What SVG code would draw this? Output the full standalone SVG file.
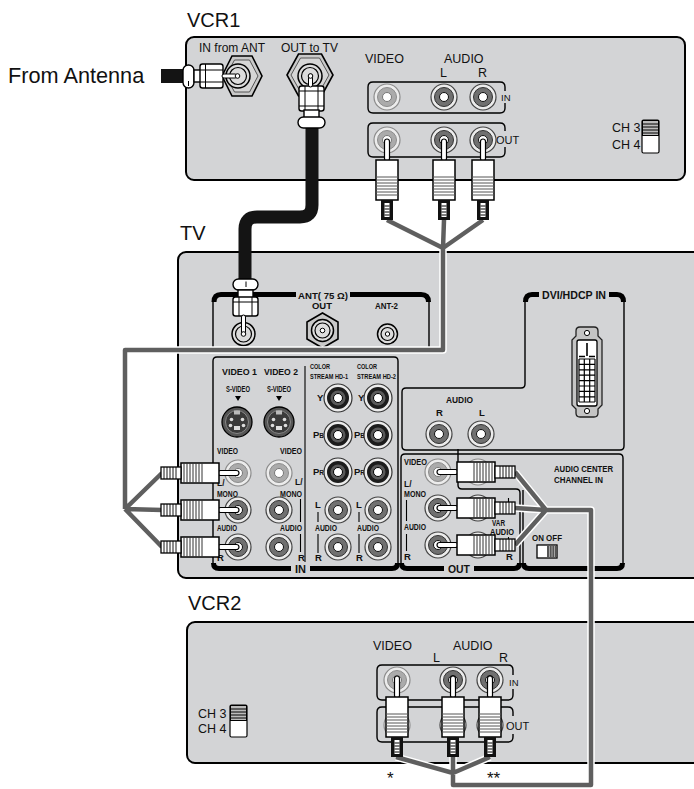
<svg xmlns="http://www.w3.org/2000/svg" xmlns:xlink="http://www.w3.org/1999/xlink" width="694" height="789" viewBox="0 0 694 789">
<style>
.t{font-family:"Liberation Sans",Arial,sans-serif;fill:#111}
.big{font-size:20px}
.m{font-size:12.5px}
.s{font-size:12px}
.b{font-weight:bold;font-size:9.5px}
.box{fill:#d3d4d6;stroke:#000;stroke-width:2}
.fr{fill:none;stroke:#000;stroke-width:1.4}
.bar{fill:none;stroke:#000;stroke-width:5}
.thin{fill:none;stroke:#000;stroke-width:1.1}
.wh{fill:#fff;stroke:#000;stroke-width:1.4}
.halo{fill:none;stroke:#fff;stroke-width:7.5;stroke-linejoin:round}
.cab{fill:none;stroke:#5f5f5f;stroke-width:4.5;stroke-linejoin:round}
.coax{fill:none;stroke:#141414;stroke-width:13;stroke-linejoin:round}
</style>
<defs>
<g id="jLight"><circle r="13" fill="#ececec" stroke="#8c8c8c" stroke-width="1.2"/><circle r="9.5" fill="#ababab" stroke="#8c8c8c"/><circle r="4.5" fill="#fff" stroke="#777"/></g>
<g id="jMed"><circle r="13" fill="#ececec" stroke="#444" stroke-width="1.2"/><circle r="9.5" fill="#707070" stroke="#333"/><circle r="4.5" fill="#fff" stroke="#111"/></g>
<g id="jDark"><circle r="14" fill="#ececec" stroke="#333" stroke-width="1.2"/><circle r="11" fill="#1c1c1c"/><circle r="7.5" fill="#5a5a5a"/><circle r="4.5" fill="#fff" stroke="#000"/></g>
<g id="sv"><circle r="15" fill="#555" stroke="#000" stroke-width="1.3"/><circle r="11.5" fill="#3a3a3a" stroke="#888"/><path d="M-3 -11.5h6v4h-6z" fill="#bbb"/><circle cx="-5.5" cy="-2.5" r="1.8" fill="#ddd"/><circle cx="5.5" cy="-2.5" r="1.8" fill="#ddd"/><circle cx="-6.5" cy="3.5" r="1.8" fill="#ddd"/><circle cx="6.5" cy="3.5" r="1.8" fill="#ddd"/><rect x="-3" y="4" width="6" height="4" fill="#ddd"/></g>
<g id="plugR">
<rect x="-1" y="-2.5" width="21" height="5" rx="2.5" fill="#fff" stroke="#000" stroke-width="1.2"/>
<rect x="19" y="-10" width="38" height="20" fill="#fff" stroke="#000" stroke-width="1.5"/>
<path d="M36 -10V10M39 -10V10M42 -10V10M45 -10V10M48 -10V10M51 -10V10M54 -10V10" stroke="#333" stroke-width="1"/>
<rect x="57" y="-6" width="20" height="12" fill="#fff" stroke="#000" stroke-width="1.3"/>
<path d="M62 -6V6M65 -6V6M68 -6V6M71 -6V6M74 -6V6" stroke="#000" stroke-width="0.9"/>
</g>
<g id="plugD">
<rect x="-2.5" y="-1" width="5" height="22" rx="2.5" fill="#fff" stroke="#000" stroke-width="1.2"/>
<rect x="-11" y="20" width="22" height="40" fill="#fff" stroke="#000" stroke-width="1.5"/>
<path d="M-11 37H11M-11 40H11M-11 43H11M-11 46H11M-11 49H11M-11 52H11M-11 55H11" stroke="#555" stroke-width="1"/>
<rect x="-6" y="60" width="12" height="20" fill="#111"/>
<rect x="-2.5" y="63" width="5" height="14" fill="#fff"/>
<path d="M-2.5 66H2.5M-2.5 69H2.5M-2.5 72H2.5M-2.5 75H2.5" stroke="#000" stroke-width="1"/>
</g>
</defs>

<text class="t" x="8" y="82.5" font-size="21.7">From Antenna</text>

<g id="vcr1">
<text class="t big" x="187" y="27">VCR1</text>
<rect class="box" x="186" y="37" width="499" height="143" rx="8"/>
<text class="t s" x="199" y="52">IN from ANT</text>
<text class="t s" x="281" y="52">OUT to TV</text>
<polygon points="222,76 232,56 252,56 262,76 252,96 232,96" fill="#c9c9c9" stroke="#000" stroke-width="1.6"/>
<polygon points="226,76 234.5,60 249.5,60 258,76 249.5,92 234.5,92" fill="#d6d6d6" stroke="#555" stroke-width="1"/>
<circle cx="238" cy="76" r="12" fill="#dcdcdc" stroke="#000" stroke-width="1.5"/>
<circle cx="238" cy="76" r="8.5" fill="none" stroke="#000" stroke-width="1.2"/>
<polygon points="287,75 298.5,54 321.5,54 333,75 321.5,96 298.5,96" fill="#c9c9c9" stroke="#000" stroke-width="1.6"/>
<polygon points="291,75 300.5,58 319.5,58 329,75 319.5,92 300.5,92" fill="#d6d6d6" stroke="#555" stroke-width="1"/>
<circle cx="310" cy="76" r="12" fill="#dcdcdc" stroke="#000" stroke-width="1.5"/>
<circle cx="310" cy="76" r="8.5" fill="none" stroke="#000" stroke-width="1.2"/>
<text class="t m" x="365" y="63">VIDEO</text>
<text class="t m" x="444" y="63">AUDIO</text>
<text class="t m" x="440" y="77">L</text>
<text class="t m" x="478" y="77">R</text>
<path class="fr" d="M505 91V87Q505 82 500 82H373Q368 82 368 87V108Q368 113 373 113H500Q505 113 505 108V103"/>
<text class="t" x="501" y="101" font-size="9.5">IN</text>
<path class="fr" d="M505 131V128Q505 123 500 123H373Q368 123 368 128V152Q368 157 373 157H500Q505 157 505 152V147"/>
<text class="t" x="496" y="143.5" font-size="11">OUT</text>
<use xlink:href="#jLight" x="387" y="97"/>
<use xlink:href="#jMed" x="444" y="97"/>
<use xlink:href="#jMed" x="483" y="97"/>
<use xlink:href="#jLight" x="387" y="140"/>
<use xlink:href="#jMed" x="444" y="140"/>
<use xlink:href="#jMed" x="483" y="140"/>
<text class="t m" x="612" y="132">CH 3</text>
<text class="t m" x="612" y="149">CH 4</text>
<rect x="642" y="120" width="17" height="33" rx="1.5" fill="#fff" stroke="#000" stroke-width="1.2"/>
<rect x="642.5" y="120.5" width="16" height="15" fill="#bbb" stroke="#000" stroke-width="1"/>
<path d="M643 124H658M643 127H658M643 130H658M643 133H658" stroke="#000" stroke-width="1"/>
</g>

<g id="tv">
<text class="t big" x="180" y="240">TV</text>
<rect class="box" x="178" y="252" width="540" height="326" rx="8"/>
<path class="fr" d="M213 350V300M429 300V350"/>
<path class="bar" d="M214 302Q214 294.5 221 294.5H296M350 294.5H421Q428.5 294.5 428.5 302"/>
<text class="t" x="298" y="298.5" font-weight="bold" font-size="9" textLength="50" lengthAdjust="spacingAndGlyphs">ANT( 75 Ω)</text>
<text class="t b" x="312" y="309" textLength="20" lengthAdjust="spacingAndGlyphs">OUT</text>
<text class="t b" x="375" y="309" textLength="23" lengthAdjust="spacingAndGlyphs">ANT-2</text>
<circle cx="243.5" cy="334" r="11.5" fill="#dcdcdc" stroke="#000" stroke-width="1.5"/>
<circle cx="243.5" cy="334" r="8" fill="none" stroke="#000" stroke-width="1.2"/>
<polygon points="322.5,313 338,322 338,339 322.5,348 307,339 307,322" fill="#c9c9c9" stroke="#000" stroke-width="1.6"/>
<circle cx="322.5" cy="330.5" r="11" fill="#dcdcdc" stroke="#000" stroke-width="1.5"/>
<circle cx="322.5" cy="330.5" r="7.5" fill="none" stroke="#000" stroke-width="1.2"/>
<circle cx="322.5" cy="330.5" r="2.3" fill="#fff" stroke="#000"/>
<circle cx="387.5" cy="334" r="10" fill="#dcdcdc" stroke="#000" stroke-width="1.5"/>
<circle cx="387.5" cy="334" r="6.5" fill="none" stroke="#000" stroke-width="1.2"/>
<circle cx="387.5" cy="334" r="2.2" fill="#fff" stroke="#000"/>
<path class="fr" d="M525 301V384Q525 388 521 388H406Q402 388 402 392V446Q402 450 406 450H620Q624 450 624 446V301"/>
<path class="bar" d="M525.5 302Q525.5 294.5 532 294.5H539M609 294.5H617Q623.5 294.5 623.5 302"/>
<text class="t" x="542" y="299" font-weight="bold" font-size="10.5" textLength="64" lengthAdjust="spacingAndGlyphs">DVI/HDCP IN</text>
<path d="M580 327H594Q598 327 598 331V336L602 340V405L598 409V413Q598 417 594 417H580Q576 417 576 413V409L572 405V340L576 336V331Q576 327 580 327Z" fill="#c4c4c4" stroke="#222" stroke-width="1.3"/>
<circle cx="587" cy="333" r="2.6" fill="#fff" stroke="#000"/>
<circle cx="587" cy="411" r="2.6" fill="#fff" stroke="#000"/>
<rect x="577" y="340" width="20" height="66" rx="2" fill="#fff" stroke="#000" stroke-width="1.3"/>
<path d="M587 343V356M579 356.5H585M589 356.5H595" stroke="#000" stroke-width="1.6"/>
<path d="M579 359V402M584.3 359V402M589.7 359V402M595 359V402M579 359H595M579 364.4H595M579 369.8H595M579 375.2H595M579 380.6H595M579 386H595M579 391.4H595M579 396.8H595M579 402H595" stroke="#000" stroke-width="1.2" fill="none"/>
<text class="t b" x="446" y="403" textLength="27" lengthAdjust="spacingAndGlyphs">AUDIO</text>
<text class="t b" x="436" y="416">R</text>
<text class="t b" x="479" y="416">L</text>
<use xlink:href="#jMed" x="439" y="434"/>
<use xlink:href="#jMed" x="481" y="434"/>
<path class="fr" d="M213 564V361Q213 357 217 357H394Q398 357 398 361V564"/>
<path class="bar" d="M213.5 563Q213.5 568.5 219 568.5H291M310 568.5H392Q397.5 568.5 397.5 563"/>
<text class="t" x="295" y="573" font-weight="bold" font-size="11">IN</text>
<path class="thin" d="M305 366V562"/>
<text class="t b" x="222" y="375" textLength="35" lengthAdjust="spacingAndGlyphs">VIDEO 1</text>
<text class="t b" x="264" y="375" textLength="34" lengthAdjust="spacingAndGlyphs">VIDEO 2</text>
<text class="t b" x="226" y="392" textLength="24" lengthAdjust="spacingAndGlyphs">S-VIDEO</text>
<text class="t b" x="267" y="392" textLength="24" lengthAdjust="spacingAndGlyphs">S-VIDEO</text>
<path d="M235 396h6l-3 5zM276 396h6l-3 5z" fill="#000"/>
<use xlink:href="#sv" x="237" y="422"/>
<use xlink:href="#sv" x="279" y="422"/>
<text class="t b" x="217" y="454" textLength="21" lengthAdjust="spacingAndGlyphs">VIDEO</text>
<text class="t b" x="280" y="454" textLength="22" lengthAdjust="spacingAndGlyphs">VIDEO</text>
<text class="t" x="217" y="486" font-weight="bold" font-size="8.5">L/</text>
<text class="t" x="295" y="485" font-weight="bold" font-size="8.5">L/</text>
<text class="t b" x="217" y="497" textLength="21" lengthAdjust="spacingAndGlyphs">MONO</text>
<text class="t b" x="280" y="497" textLength="22" lengthAdjust="spacingAndGlyphs">MONO</text>
<text class="t b" x="217" y="531" textLength="20" lengthAdjust="spacingAndGlyphs">AUDIO</text>
<text class="t b" x="280" y="531" textLength="22" lengthAdjust="spacingAndGlyphs">AUDIO</text>
<text class="t b" x="217" y="561">R</text>
<text class="t b" x="298" y="561">R</text>
<path class="thin" d="M300.5 499V522M300.5 534V552"/>
<use xlink:href="#jLight" x="238" y="473"/>
<use xlink:href="#jLight" x="279" y="473"/>
<use xlink:href="#jMed" x="238" y="510"/>
<use xlink:href="#jMed" x="279" y="510"/>
<use xlink:href="#jMed" x="238" y="547"/>
<use xlink:href="#jMed" x="279" y="547"/>
<text class="t" x="310" y="369" font-weight="bold" font-size="8" textLength="20" lengthAdjust="spacingAndGlyphs">COLOR</text>
<text class="t" x="310" y="379" font-weight="bold" font-size="8" textLength="38" lengthAdjust="spacingAndGlyphs">STREAM HD-1</text>
<text class="t" x="357" y="369" font-weight="bold" font-size="8" textLength="20" lengthAdjust="spacingAndGlyphs">COLOR</text>
<text class="t" x="357" y="379" font-weight="bold" font-size="8" textLength="39" lengthAdjust="spacingAndGlyphs">STREAM HD-2</text>
<text class="t b" x="317" y="401">Y</text>
<text class="t b" x="358" y="401">Y</text>
<text class="t b" x="313" y="438">P<tspan font-size="6.5">B</tspan></text>
<text class="t b" x="354" y="438">P<tspan font-size="6.5">B</tspan></text>
<text class="t b" x="313" y="475">P<tspan font-size="6.5">R</tspan></text>
<text class="t b" x="354" y="475">P<tspan font-size="6.5">R</tspan></text>
<use xlink:href="#jDark" x="338" y="398"/>
<use xlink:href="#jDark" x="378" y="398"/>
<use xlink:href="#jDark" x="338" y="435"/>
<use xlink:href="#jDark" x="378" y="435"/>
<use xlink:href="#jDark" x="338" y="472"/>
<use xlink:href="#jDark" x="378" y="472"/>
<text class="t b" x="315" y="508">L</text>
<text class="t b" x="356" y="508">L</text>
<path class="thin" d="M318 512V522M318 534V553M359 512V522M359 534V553"/>
<text class="t b" x="315" y="531" textLength="22" lengthAdjust="spacingAndGlyphs">AUDIO</text>
<text class="t b" x="357" y="531" textLength="22" lengthAdjust="spacingAndGlyphs">AUDIO</text>
<text class="t b" x="315" y="561">R</text>
<text class="t b" x="356" y="561">R</text>
<use xlink:href="#jMed" x="338" y="510"/>
<use xlink:href="#jMed" x="378" y="510"/>
<use xlink:href="#jMed" x="338" y="547"/>
<use xlink:href="#jMed" x="378" y="547"/>
<path class="fr" d="M458 454H405Q401 454 401 458V564M520 564V493Q520 489 516 489H462Q458 489 458 485V449"/>
<path class="bar" d="M401.5 563Q401.5 568.5 407 568.5H444M474 568.5H514Q519.5 568.5 519.5 563"/>
<text class="t" x="448" y="573" font-weight="bold" font-size="11" textLength="22" lengthAdjust="spacingAndGlyphs">OUT</text>
<text class="t b" x="404" y="465" textLength="23" lengthAdjust="spacingAndGlyphs">VIDEO</text>
<text class="t" x="404" y="486.5" font-weight="bold" font-size="8.5">L/</text>
<text class="t b" x="404" y="497" textLength="22" lengthAdjust="spacingAndGlyphs">MONO</text>
<path class="thin" d="M406.5 500V521M406.5 534V551"/>
<text class="t b" x="404" y="530" textLength="22" lengthAdjust="spacingAndGlyphs">AUDIO</text>
<text class="t b" x="404" y="560">R</text>
<text class="t" x="492" y="525.5" font-weight="bold" font-size="8.5" textLength="13" lengthAdjust="spacingAndGlyphs">VAR</text>
<text class="t" x="490" y="535" font-weight="bold" font-size="8.5" textLength="24" lengthAdjust="spacingAndGlyphs">AUDIO</text>
<text class="t b" x="506" y="560">R</text>
<path class="thin" d="M508.5 498V513M508.5 537V548"/>
<use xlink:href="#jLight" x="438" y="472"/>
<use xlink:href="#jMed" x="438" y="508"/>
<use xlink:href="#jMed" x="438" y="545"/>
<use xlink:href="#jLight" x="478" y="472"/>
<use xlink:href="#jMed" x="478" y="508"/>
<use xlink:href="#jMed" x="478" y="545"/>
<path class="fr" d="M458 454H619Q623 454 623 458V564M523 564V490"/>
<path class="bar" d="M523.5 563Q523.5 568.5 529 568.5H617Q622.5 568.5 622.5 563"/>
<text class="t b" x="554" y="472" textLength="59" lengthAdjust="spacingAndGlyphs">AUDIO CENTER</text>
<text class="t b" x="554" y="483" textLength="49" lengthAdjust="spacingAndGlyphs">CHANNEL IN</text>
<text class="t b" x="532" y="541" textLength="30" lengthAdjust="spacingAndGlyphs">ON OFF</text>
<rect x="537" y="545" width="20" height="13" fill="#fff" stroke="#000" stroke-width="1.3"/>
<rect x="547" y="545.5" width="9.5" height="12" fill="#555"/>
<path d="M549.5 546V557M552 546V557M554.5 546V557" stroke="#bbb" stroke-width="0.8"/>
</g>

<g id="vcr2">
<text class="t big" x="188" y="610">VCR2</text>
<rect class="box" x="187" y="622" width="530" height="141" rx="8"/>
<text class="t m" x="373" y="650">VIDEO</text>
<text class="t m" x="453" y="650">AUDIO</text>
<text class="t m" x="433" y="662">L</text>
<text class="t m" x="499" y="662">R</text>
<path class="fr" d="M513 675V670Q513 665 508 665H382Q377 665 377 670V695Q377 700 382 700H508Q513 700 513 695V689"/>
<text class="t" x="509" y="686" font-size="9.5">IN</text>
<path class="fr" d="M513 716V712Q513 707 508 707H382Q377 707 377 712V737Q377 742 382 742H508Q513 742 513 737V734"/>
<text class="t" x="506" y="730" font-size="11">OUT</text>
<use xlink:href="#jLight" x="397" y="680"/>
<use xlink:href="#jMed" x="453" y="680"/>
<use xlink:href="#jMed" x="490" y="680"/>
<use xlink:href="#jLight" x="397" y="725"/>
<use xlink:href="#jMed" x="453" y="725"/>
<use xlink:href="#jMed" x="490" y="725"/>
<text class="t m" x="198" y="718">CH 3</text>
<text class="t m" x="198" y="733">CH 4</text>
<rect x="230" y="705" width="17" height="32" rx="1.5" fill="#fff" stroke="#000" stroke-width="1.2"/>
<rect x="230.5" y="705.5" width="16" height="15" fill="#bbb" stroke="#000" stroke-width="1"/>
<path d="M231 709H246M231 712H246M231 715H246M231 718H246" stroke="#000" stroke-width="1"/>
<text class="t" x="387" y="784" font-size="17">*</text>
<text class="t" x="487" y="784" font-size="17">**</text>
</g>

<g id="connectors">
<path class="coax" d="M312 127V205Q312 217 300 217H257Q245 217 245 229V281"/>
<rect x="161" y="69" width="24" height="14" fill="#141414"/>
<path class="halo" d="M387 220L443 248M444 220L443 248M483 220L443 248M443 248V350H125V509M125 509L162 473M125 509L162 510M125 509L162 547"/>
<path class="halo" d="M515 472L546 510M515 508L546 510M515 545L546 510M546 510H591V785H453V773M396 757L453 773M453 757V773M490 757L453 773"/>
<path class="cab" d="M387 220L443 248M444 220L443 248M483 220L443 248M443 248V350H125V509M125 509L162 473M125 509L162 510M125 509L162 547"/>
<path class="cab" d="M515 472L546 510M515 508L546 510M515 545L546 510M546 510H591V785H453V773M396 757L453 773M453 757V773M490 757L453 773"/>
<g id="ant-plug">
<rect class="wh" x="183" y="65" width="11" height="23" rx="5.5"/>
<line x1="188.5" y1="81" x2="188.5" y2="86" stroke="#000"/>
<rect class="wh" x="194" y="70" width="7" height="12"/>
<rect class="wh" x="200" y="64" width="23" height="24" rx="2.5"/>
<path d="M200 70H223M200 82H223M205.5 64V88" stroke="#000" fill="none"/>
<rect x="222" y="74" width="15" height="4" rx="2" fill="#fff" stroke="#000"/>
<circle cx="237.5" cy="76" r="2.3" fill="#fff" stroke="#000"/>
</g>
<g id="vcr1-coax-plug">
<rect class="wh" x="299" y="86" width="25" height="25" rx="2.5"/>
<path d="M305 86V111M318 86V111M299 91H324M299 106H324" stroke="#000" fill="none"/>
<rect class="wh" x="304" y="110" width="15" height="8"/>
<rect class="wh" x="298" y="117" width="27" height="11" rx="5.5"/>
<rect x="308.5" y="74" width="4" height="13" rx="2" fill="#fff" stroke="#000"/>
<circle cx="310.5" cy="76" r="2.3" fill="#fff" stroke="#000"/>
</g>
<g id="tv-coax-plug">
<rect class="wh" x="233" y="279" width="25" height="11" rx="5.5"/>
<line x1="246" y1="281.5" x2="246" y2="287" stroke="#000"/>
<rect class="wh" x="238" y="290" width="15" height="8"/>
<rect class="wh" x="233" y="297" width="25" height="19" rx="2.5"/>
<path d="M239 297V316M252 297V316M233 302H258" stroke="#000" fill="none"/>
<rect x="241.5" y="315" width="4" height="19" rx="2" fill="#fff" stroke="#000"/>
<circle cx="243.5" cy="334" r="2.3" fill="#fff" stroke="#000"/>
</g>
<use xlink:href="#plugD" x="387" y="140"/>
<use xlink:href="#plugD" x="444" y="140"/>
<use xlink:href="#plugD" x="483" y="140"/>
<use xlink:href="#plugR" transform="translate(238,473) scale(-1,1)"/>
<use xlink:href="#plugR" transform="translate(238,510) scale(-1,1)"/>
<use xlink:href="#plugR" transform="translate(238,547) scale(-1,1)"/>
<use xlink:href="#plugR" x="438" y="472"/>
<use xlink:href="#plugR" x="438" y="508"/>
<use xlink:href="#plugR" x="438" y="545"/>
<use xlink:href="#plugD" x="397" y="677"/>
<use xlink:href="#plugD" x="453" y="677"/>
<use xlink:href="#plugD" x="490" y="677"/>
</g>
</svg>
